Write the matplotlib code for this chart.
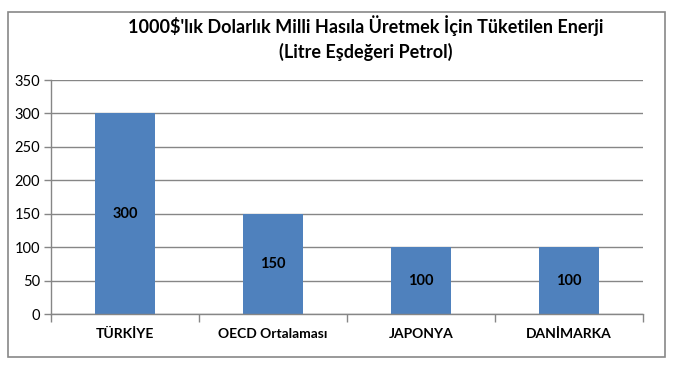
import matplotlib
matplotlib.use("Agg")
import matplotlib.pyplot as plt
from matplotlib.patches import Rectangle
import numpy as np

categories = ["TÜRKİYE", "OECD Ortalaması", "JAPONYA", "DANİMARKA"]
values = [300, 150, 100, 100]
yticks = [0, 50, 100, 150, 200, 250, 300, 350]
title = "1000$'lık Dolarlık Milli Hasıla Üretmek İçin Tüketilen Enerji\n(Litre Eşdeğeri Petrol)"

W, H = 674, 367
plt.rcParams['font.family'] = ['Lato', 'DejaVu Sans']
fig = plt.figure(figsize=(W / 100, H / 100), dpi=100)
ax = fig.add_axes([51 / W, 53 / H, (643 - 51) / W, (314 - 80) / H])

grid_col = "#868686"
x = np.arange(len(categories))
bars = ax.bar(x, values, width=0.4, color="#4F81BD", zorder=2)
ax.bar_label(bars, labels=[str(v) for v in values], label_type='center',
             fontsize=10.5, fontweight='bold', color='black')

ax.set_xlim(-0.5, len(categories) - 0.5)
ax.set_ylim(0, 350)
ax.set_yticks(yticks)
ax.set_yticklabels([str(t) for t in yticks], fontsize=10.5)
ax.yaxis.grid(True, color=grid_col, linewidth=1, zorder=0)
ax.tick_params(axis='y', length=5, color=grid_col, pad=3, width=1)

# category labels between boundary ticks
ax.set_xticks(np.arange(len(categories) + 1) - 0.5)
ax.set_xticklabels([])
ax.tick_params(axis='x', length=6, color=grid_col, width=1)
ax.set_xticks(x, minor=True)
ax.set_xticklabels(categories, minor=True, fontsize=10, fontweight='bold')
ax.tick_params(axis='x', which='minor', length=0, pad=10)

for s in ['top', 'right']:
    ax.spines[s].set_visible(False)
for s in ['left', 'bottom']:
    ax.spines[s].set_color(grid_col)
    ax.spines[s].set_linewidth(1)

fig.text(366 / W, 1 - 38 / H, title, ha='center', va='center',
         fontsize=13, fontweight='bold', linespacing=1.45)

fig.patches.append(Rectangle((8 / W, 1 - 357 / H), (665 - 8) / W, (357 - 12) / H,
                             transform=fig.transFigure, fill=False,
                             edgecolor="#888888", linewidth=1.2))

fig.savefig("out.png", dpi=100)
